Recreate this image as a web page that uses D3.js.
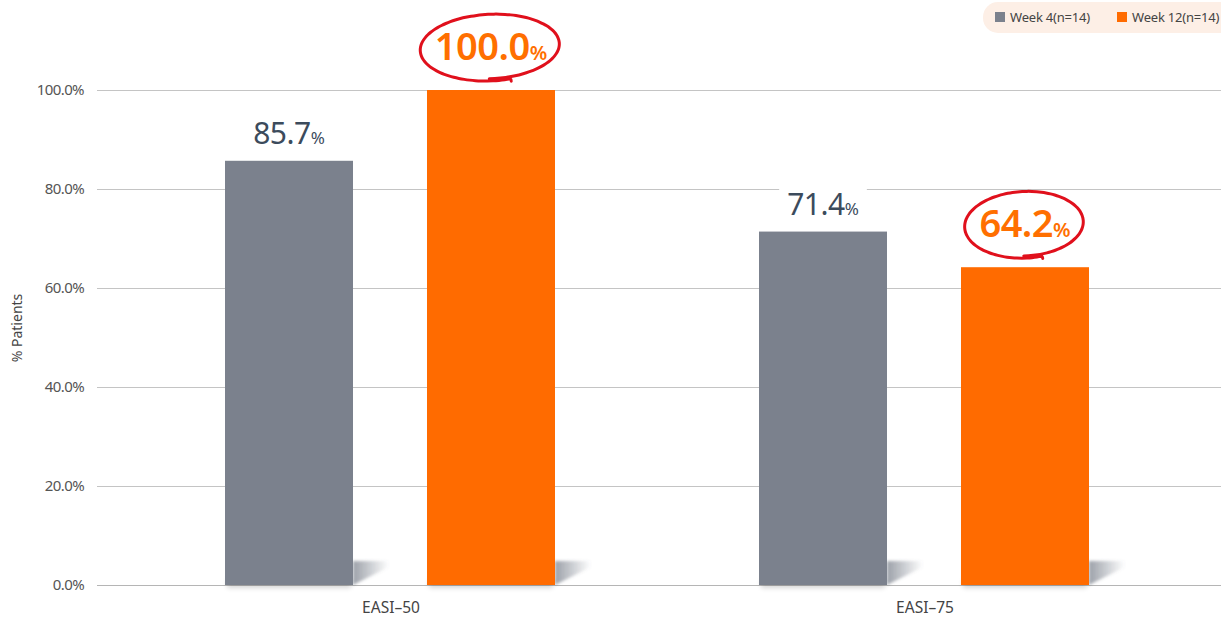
<!DOCTYPE html>
<html><head><meta charset="utf-8">
<script src="https://cdn.jsdelivr.net/npm/d3@7"></script>
<style>
html,body{margin:0;padding:0;background:#fff;}
svg{display:block;font-family:"Noto Sans",sans-serif;}
</style></head>
<body>
<svg id="chart" width="1221" height="619"></svg>
<script>
const categories = ["EASI–50", "EASI–75"];
const seriesNames = ["Week 4(n=14)", "Week 12(n=14)"];
const week4 = [85.7, 71.4];
const week12 = [100.0, 64.2];
const yTicks = [0, 20, 40, 60, 80, 100];
const colors = ["#7b818d", "#ff6b00"];

const svg = d3.select("#chart");
const W = 1221, H = 619;
const y = d3.scaleLinear().domain([0, 100]).range([585, 90]);
const x0 = d3.scaleBand().domain(categories).range([123, 1191]).padding(0);
const x1 = d3.scaleBand().domain(seriesNames).range([102, 432]).paddingInner(0.3663).paddingOuter(0);

const defs = svg.append("defs");
const g1 = defs.append("linearGradient").attr("id","shGrad").attr("x1","0").attr("x2","1").attr("y1","0").attr("y2","0");
g1.append("stop").attr("offset","0").attr("stop-color","#5a6270").attr("stop-opacity",0.6);
g1.append("stop").attr("offset","1").attr("stop-color","#5a6270").attr("stop-opacity",0);
const blur = defs.append("filter").attr("id","blur").attr("x","-50%").attr("y","-50%").attr("width","200%").attr("height","200%");
blur.append("feGaussianBlur").attr("stdDeviation",2.5);
const blur1 = defs.append("filter").attr("id","blur1").attr("x","-50%").attr("y","-50%").attr("width","200%").attr("height","200%");
blur1.append("feGaussianBlur").attr("stdDeviation",1.5);

// legend
const leg = svg.append("g");
leg.append("rect").attr("x",983).attr("y",2).attr("width",260).attr("height",31).attr("rx",15).attr("fill","#fdefe6");
const legX = [995, 1117];
seriesNames.forEach((s,i)=>{
  leg.append("rect").attr("x",legX[i]).attr("y",12).attr("width",10).attr("height",10).attr("fill",colors[i]);
  leg.append("text").attr("x",legX[i]+15).attr("y",22).attr("font-size",13).attr("letter-spacing",-0.2)
    .attr("fill","#444").text(s);
});

// grid
const grid = svg.append("g");
yTicks.forEach(t=>{
  grid.append("line").attr("x1",97).attr("x2",W).attr("y1",y(t)+0.5).attr("y2",y(t)+0.5)
    .attr("stroke", t===0 ? "#b5b5b5" : "#c4c4c4").attr("stroke-width",1);
  grid.append("text").attr("x",84).attr("y",y(t)+5).attr("text-anchor","end")
    .attr("font-size",15).attr("fill","#555").attr("letter-spacing",-0.6).text(t.toFixed(1)+"%");
});
svg.append("text").attr("transform","translate(22,328) rotate(-90)").attr("text-anchor","middle")
  .attr("font-size",14).attr("fill","#444").text("% Patients");

// category labels
categories.forEach(c=>{
  svg.append("text").attr("x",x0(c)+x0.bandwidth()/2 + 1).attr("y",613).attr("text-anchor","middle")
    .attr("font-size",15.5).attr("fill","#444").text(c);
});

const data = [];
categories.forEach((c,ci)=>{
  [week4, week12].forEach((arr,si)=>{
    data.push({cat:c, s:seriesNames[si], si, v:arr[ci]});
  });
});

// shadows
const shG = svg.append("g");
data.forEach(d=>{
  const xl = x0(d.cat)+x1(d.s), xr = xl + x1.bandwidth(), yb = y(0);
  shG.append("path")
    .attr("d",`M${xr},${yb} L${xr+36},${yb-18} L${xr+36},${yb-24} L${xr},${yb-24} Z`)
    .attr("fill","url(#shGrad)").attr("filter","url(#blur1)");
  shG.append("rect").attr("x",xl+2).attr("y",yb-6).attr("width",x1.bandwidth()-4).attr("height",9)
    .attr("fill","#000").attr("opacity",0.16).attr("filter","url(#blur)");
});

// bars
svg.append("g").selectAll("rect").data(data).join("rect")
  .attr("x",d=>x0(d.cat)+x1(d.s)).attr("width",x1.bandwidth())
  .attr("y",d=>y(d.v)).attr("height",d=>y(0)-y(d.v))
  .attr("fill",d=>colors[d.si]);

// value labels
const labG = svg.append("g");
data.forEach(d=>{
  const cx = x0(d.cat)+x1(d.s)+x1.bandwidth()/2;
  const orange = d.si===1;
  const base = y(d.v) - (orange ? 30 : 17);
  const bg = labG.append("rect").attr("fill","#fff");
  const t = labG.append("text").attr("x",cx).attr("y",base).attr("text-anchor","middle")
    .attr("fill", orange ? "#ff6f00" : "#3c4b5c");
  t.append("tspan").attr("font-size", orange ? 38 : 30).attr("font-weight", orange ? 600 : 400)
    .attr("letter-spacing",-0.5).text(d.v.toFixed(1));
  t.append("tspan").attr("font-size", orange ? 20 : 17).attr("font-weight", orange ? 600 : 400).text("%");
  const bb = t.node().getBBox();
  bg.attr("x",bb.x-8).attr("y",bb.y+6).attr("width",bb.width+16).attr("height",bb.height-8);
  if (orange) {
    const ex = cx, ey = base-13, rx = bb.width/2+16, ry = 34;
    const pts = [];
    const a0 = Math.PI*0.42, a1 = a0 + Math.PI*2 + 0.3;
    pts.push([ex + Math.cos(a0)*rx*0.96 + 3, ey + Math.sin(a0)*ry*0.98 + 2]);
    for (let k=0;k<=80;k++){
      const a = a0 + (a1-a0)*k/80;
      const f = 1 - 0.07*k/80;
      const tilt = -0.05;
      const px = Math.cos(a)*rx*f, py = Math.sin(a)*ry*f;
      pts.push([ex + px*Math.cos(tilt) - py*Math.sin(tilt), ey + px*Math.sin(tilt) + py*Math.cos(tilt)]);
    }
    labG.append("path").attr("d", d3.line().curve(d3.curveCatmullRom)(pts))
      .attr("fill","none").attr("stroke","#e0101c").attr("stroke-width",3).attr("stroke-linecap","round");
  }
});
</script>
</body></html>
